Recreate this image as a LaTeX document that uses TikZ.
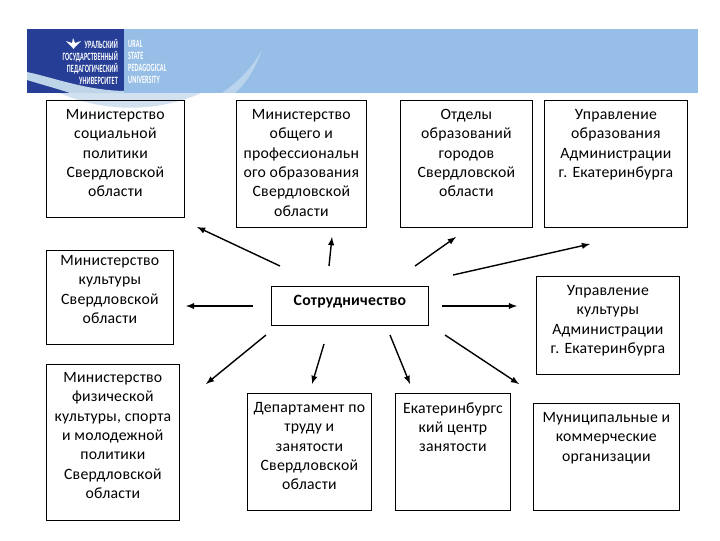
\documentclass[tikz,border=0pt]{standalone}
\usepackage{fontspec}
\setmainfont[LetterSpace=1.5]{Carlito}
\tikzset{>=latex}
\definecolor{ugpblue}{RGB}{38,62,150}
\definecolor{ugplight}{RGB}{150,190,230}
\definecolor{ugpband}{RGB}{190,212,232}
\tikzset{
    orgbox/.style={draw, line width=.5pt, anchor=north west, inner sep=0pt, font=\fontsize{11.2}{13.75}\selectfont},
    linkarrow/.style={line width=1pt, ->},
    logotext/.style={white, xscale=.56, transform shape, font=\fontsize{7.9}{8.6}\bfseries\selectfont, inner sep=0pt}
}
% name, corner, width, height, top gap, text
\newcommand*{\orgnode}[6]{\node[orgbox] (#1) at (#2) {\parbox[c][#4\dimexpr.025cm\relax][t]{#3\dimexpr.025cm\relax}{\centering\vspace*{#5\dimexpr.025cm\relax}#6}};}
\begin{document}
\begin{tikzpicture}[x=.025cm, y=-.025cm]
    \useasboundingbox (0, 0) rectangle (720, 540);
    % banner
    \fill[ugpband, opacity=.7](60, 93)..controls(100, 112)and(190, 125)..(262, 50)..controls(200, 105)and(120, 100)..(27, 72)--(27, 80)--cycle;
    \fill[ugplight](124, 29)rectangle(698, 93);
    \fill[ugpblue](27, 29)rectangle(124, 93);
    \fill[ugpband](27, 72)..controls(55, 78)and(85, 90)..(124, 91)--(124, 93)--(70, 93)..controls(55, 88)and(40, 84)..(27, 80)--cycle;
    \fill[white, opacity=.35](222, 93)..controls(238, 82)and(252, 68)..(262, 50)..controls(254, 72)and(244, 85)..(235, 93)--cycle;
    \fill[white](72, 47)--(66, 41)--(72, 43)--(73, 38)--(75, 43)--(81, 41)--(75, 47)--(73.5, 49)--cycle;
    \node[logotext, align=right, anchor=east] (logoru) at (118, 62) {УРАЛЬСКИЙ\\ГОСУДАРСТВЕННЫЙ\\ПЕДАГОГИЧЕСКИЙ\\УНИВЕРСИТЕТ};
    \node[logotext, align=left, anchor=west] (logoen) at (128, 62) {URAL\\STATE\\PEDAGOGICAL\\UNIVERSITY};
    % boxes
    \orgnode{mso}{46, 100}{138}{117}{9}{Министерство\\социальной\\политики\\Свердловской\\области}
    \orgnode{mop}{236, 100}{130}{127}{9}{Министерство\\общего и\\профессиональн\\ого образования\\Свердловской\\области}
    \orgnode{otd}{400, 100}{132}{127}{9}{Отделы\\образований\\городов\\Свердловской\\области}
    \orgnode{upo}{544, 100}{143}{127}{9}{Управление\\образования\\Администрации\\г. Екатеринбурга}
    \orgnode{mkk}{46, 250}{127}{94}{5}{Министерство\\культуры\\Свердловской\\области}
    \orgnode{mfk}{46, 364}{133}{156}{8}{Министерство\\физической\\культуры, спорта\\и молодежной\\политики\\Свердловской\\области}
    \orgnode{sotr}{271, 286}{157}{39}{9}{\bfseries Сотрудничество}
    \orgnode{ukk}{536, 276}{143}{98}{9}{Управление\\культуры\\Администрации\\г. Екатеринбурга}
    \orgnode{dep}{247, 393}{124}{117}{9}{Департамент по\\труду и\\занятости\\Свердловской\\области}
    \orgnode{ecz}{395, 393}{115}{117}{9}{Екатеринбургс\\кий центр\\занятости}
    \orgnode{mko}{533, 403}{146}{107}{9}{Муниципальные и\\коммерческие\\организации}
    % arrows
    \coordinate(msofrom)at(280, 266);
    \coordinate(msoto)at(197, 227);
    \coordinate(mopfrom)at(329, 266);
    \coordinate(mopto)at(332, 237);
    \coordinate(otdfrom)at(415, 266);
    \coordinate(otdto)at(456, 237);
    \coordinate(upofrom)at(453, 275);
    \coordinate(upoto)at(590, 244);
    \coordinate(mkkfrom)at(253, 306);
    \coordinate(mkkto)at(186, 306);
    \coordinate(ukkfrom)at(442, 306);
    \coordinate(ukkto)at(517, 306);
    \coordinate(mfkfrom)at(266, 335);
    \coordinate(mfkto)at(206, 384);
    \coordinate(depfrom)at(324, 344);
    \coordinate(depto)at(312, 384);
    \coordinate(eczfrom)at(390, 335);
    \coordinate(eczto)at(410, 384);
    \coordinate(mkofrom)at(445, 335);
    \coordinate(mkoto)at(519, 384);
    \foreach \org in {mso, mop, otd, upo, mkk, ukk, mfk, dep, ecz, mko}
        \draw[linkarrow](\org from)--(\org to);
\end{tikzpicture}
\end{document}
